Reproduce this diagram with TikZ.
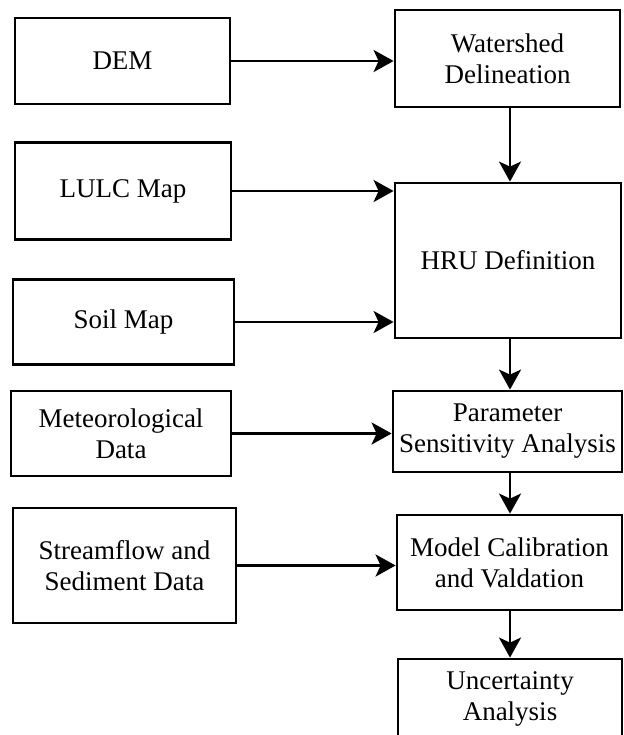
\documentclass[tikz,border=0pt]{standalone}
\usepackage{fontspec}
\setmainfont{Liberation Serif}
\usetikzlibrary{arrows.meta}
\begin{document}
\begin{tikzpicture}[x=1pt,y=-1pt,
  box/.style={draw=black, line width=2.8pt, align=center, inner sep=0pt,
    font=\fontsize{27}{31}\selectfont, fill=white},
  arr/.style={line width=2.8pt, -{Stealth[length=20pt,width=22pt,inset=5pt]}}]
\useasboundingbox[fill=white] (0,0) rectangle (623,735);
% left column
\node[box, minimum width=215pt, minimum height=86pt] (dem) at (122.5,61) {DEM};
\node[box, minimum width=216pt, minimum height=97pt] (lulc) at (123,191) {LULC Map};
\node[box, minimum width=221pt, minimum height=85pt] (soil) at (123.5,322) {Soil Map};
\node[box, minimum width=220pt, minimum height=85pt] (met) at (121,433.5) {Meteorological\\Data};
\node[box, minimum width=223pt, minimum height=115pt] (stream) at (124.5,565.5) {Streamflow and\\Sediment Data};
% right column
\node[box, minimum width=225pt, minimum height=97pt] (ws) at (507.5,58.5) {Watershed\\Delineation};
\node[box, minimum width=226pt, minimum height=155pt] (hru) at (508,260.5) {HRU Definition};
\node[box, minimum width=229pt, minimum height=81pt] (psa) at (507.5,431.5) {Parameter\\Sensitivity Analysis};
\node[box, minimum width=225pt, minimum height=95pt] (cal) at (509.5,562.5) {Model Calibration\\and Valdation};
\node[box, minimum width=224pt, minimum height=80pt] (unc) at (510,699) {Uncertainty\\Analysis};
\coordinate (vx) at (510,0);
% horizontal arrows
\draw[arr] (dem.east) -- (ws.west |- dem.east);
\draw[arr] (lulc.east) -- (hru.west |- lulc.east);
\draw[arr] (soil.east) -- (hru.west |- soil.east);
\draw[arr] (met.east) -- (psa.west |- met.east);
\draw[arr] (stream.east) -- (cal.west |- stream.east);
% vertical arrows
\draw[arr] (ws.south -| vx) -- (hru.north -| vx);
\draw[arr] (hru.south -| vx) -- (psa.north -| vx);
\draw[arr] (psa.south -| vx) -- (cal.north -| vx);
\draw[arr] (cal.south -| vx) -- (unc.north -| vx);
\end{tikzpicture}
\end{document}
